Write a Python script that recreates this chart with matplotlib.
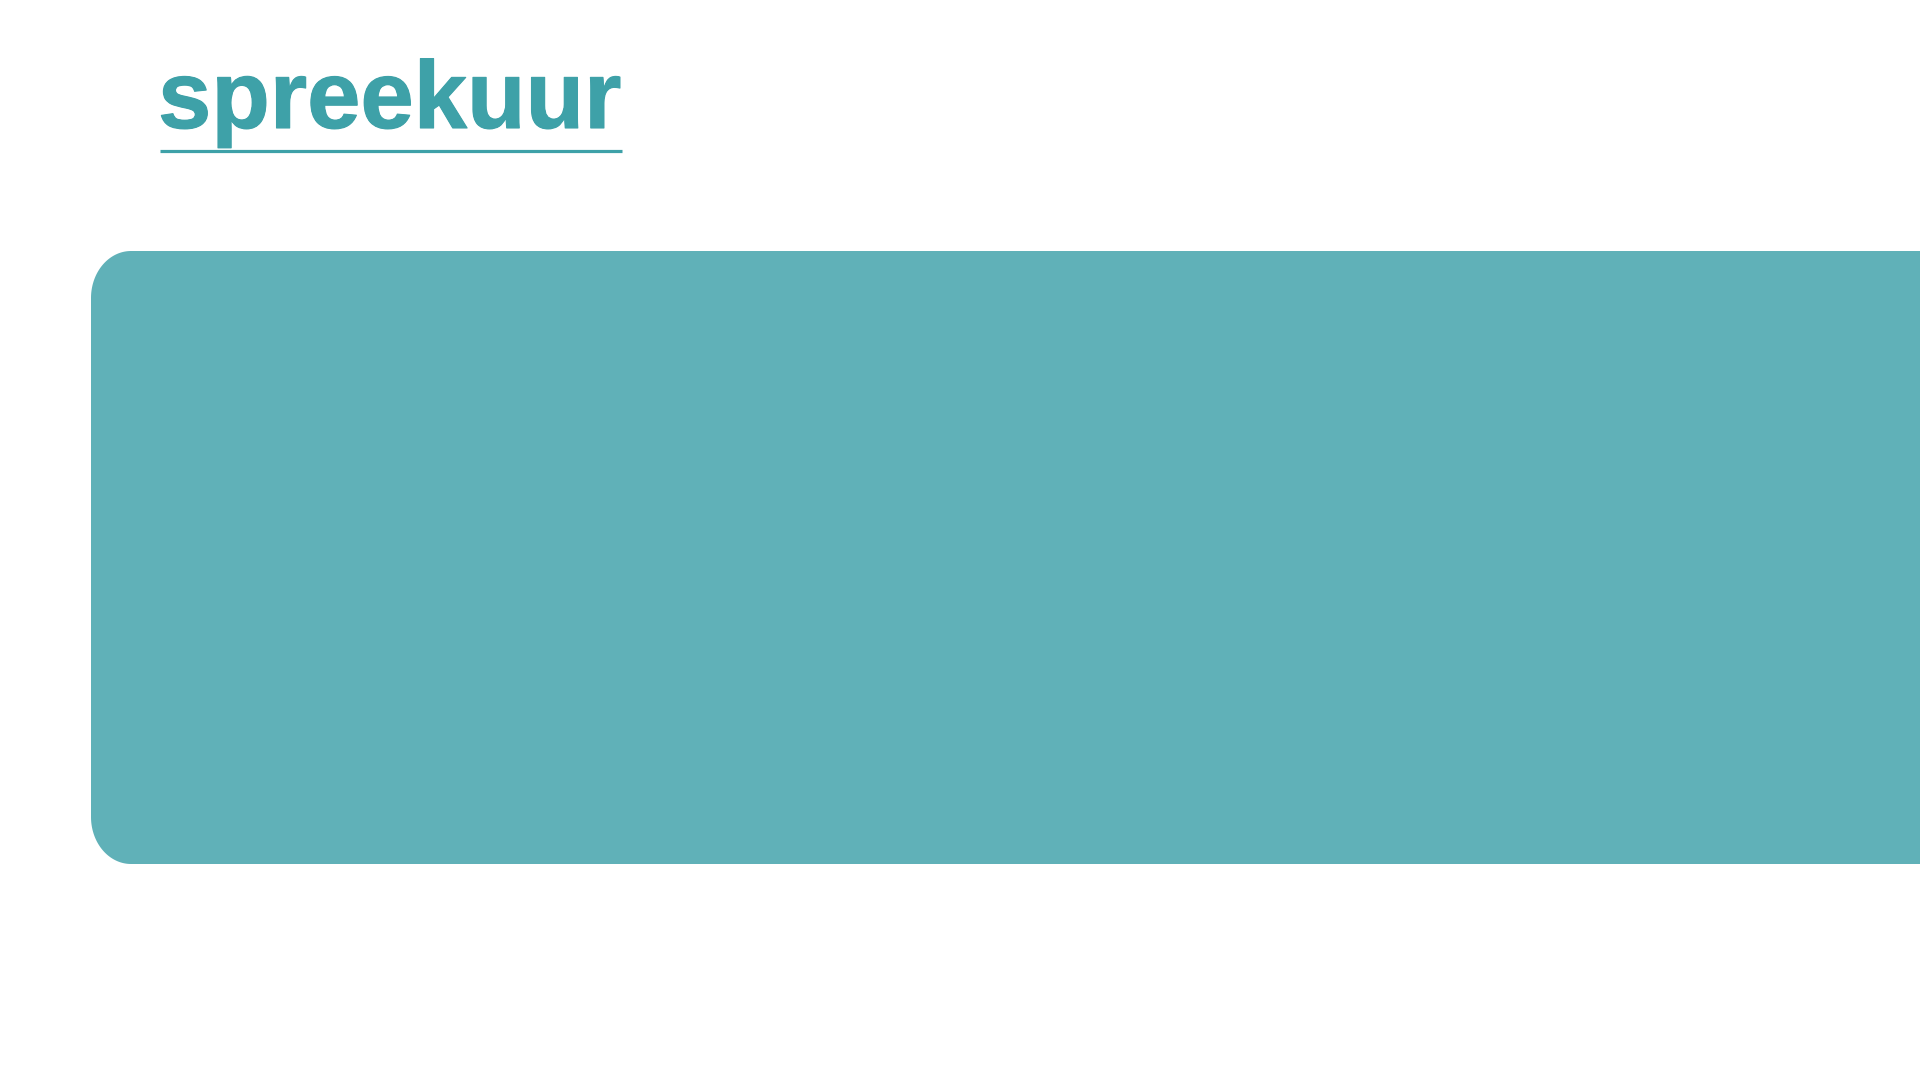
"""Banner slide: 'spreekuur' heading with a teal panel."""
import matplotlib

matplotlib.use("Agg")
import matplotlib.pyplot as plt
import matplotlib.patheffects as pe
import numpy as np
from matplotlib.patches import Polygon

TITLE = "spreekuur"
INK = "#3EA1A8"     # heading + underline
PANEL = "#60B1B8"   # big panel

W, H = 1920, 1080


def panel(ax, x0, y0, x1, y1, rx, ry, color):
    # left corners elliptic, right side runs off the canvas
    cx = x0 + rx
    a_top = np.linspace(np.pi / 2, np.pi, 40)
    a_bot = np.linspace(np.pi, 1.5 * np.pi, 40)
    top = np.column_stack([cx + rx * np.cos(a_top), y0 + ry - ry * np.sin(a_top)])
    bot = np.column_stack([cx + rx * np.cos(a_bot), y1 - ry - ry * np.sin(a_bot)])
    pts = np.vstack([[[x1, y0]], top, bot, [[x1, y1]]])
    ax.add_patch(Polygon(pts, closed=True, facecolor=color, edgecolor="none", lw=0))


fig = plt.figure(figsize=(W / 100, H / 100), dpi=100)
ax = fig.add_axes([0, 0, 1, 1])
ax.set_xlim(0, W); ax.set_ylim(H, 0); ax.axis("off")

# heading
ax.text(158, 128, TITLE, ha="left", va="baseline", fontsize=69,
        fontweight="bold", family="Liberation Sans", color=INK,
        path_effects=[pe.withStroke(linewidth=0.8, foreground=INK)])
ax.plot([160, 622], [151, 151], color=INK, lw=2.3, solid_capstyle="butt")

panel(ax, 91, 251, 2000, 864, 40, 47, PANEL)

fig.savefig("out.png", dpi=100, facecolor="white")
